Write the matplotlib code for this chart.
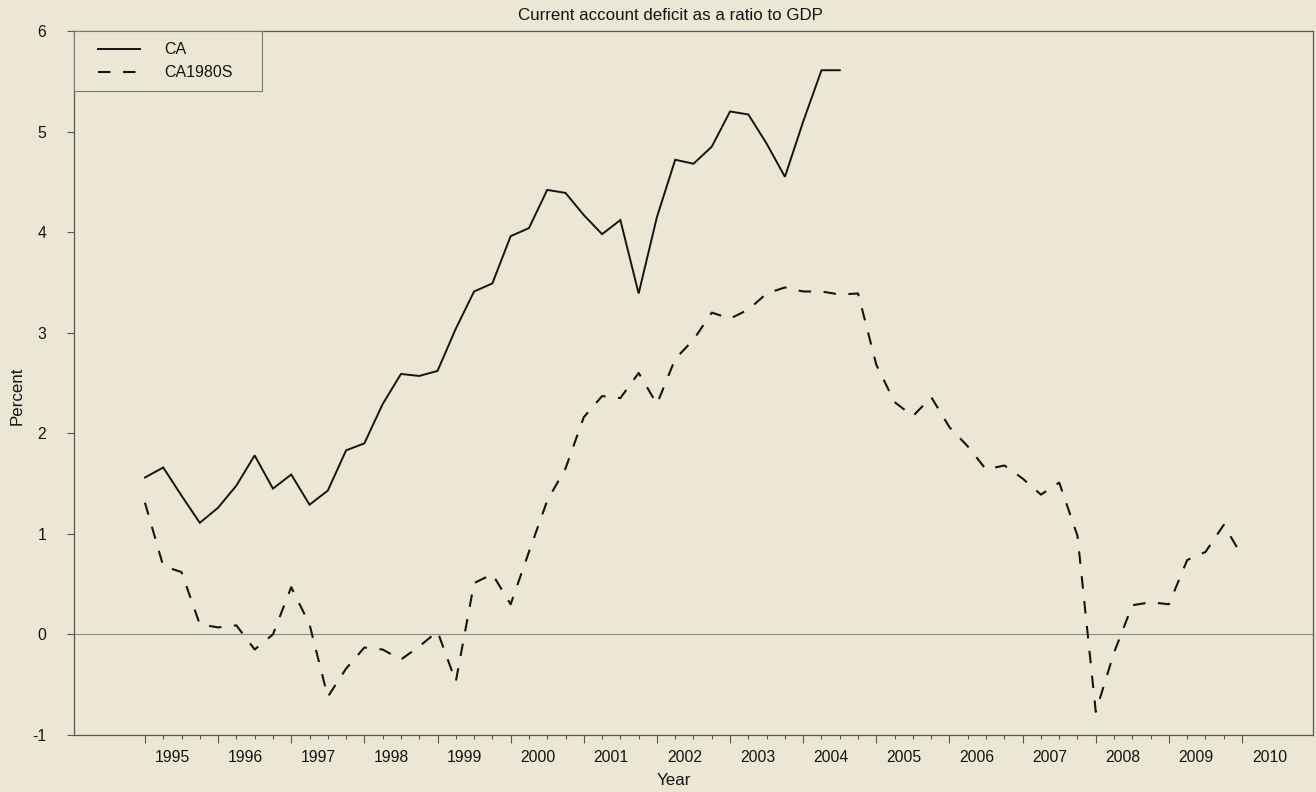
import numpy as np
import matplotlib
matplotlib.use("Agg")
import matplotlib.pyplot as plt
from matplotlib.legend_handler import HandlerLine2D

plt.rcParams['font.family'] = ['Liberation Sans', 'DejaVu Sans']

# ---- data (quarterly, starting 1995Q1) ----
start_year = 1995
ca = [1.56, 1.66, 1.38, 1.11,
      1.26, 1.48, 1.78, 1.45,
      1.59, 1.29, 1.43, 1.83,
      1.90, 2.29, 2.59, 2.57,
      2.62, 3.04, 3.41, 3.49,
      3.96, 4.04, 4.42, 4.39,
      4.17, 3.98, 4.12, 3.39,
      4.15, 4.72, 4.68, 4.85,
      5.20, 5.17, 4.88, 4.55,
      5.10, 5.61, 5.61]
ca1980s = [1.31, 0.68, 0.62, 0.10,
           0.07, 0.09, -0.15, 0.00,
           0.47, 0.10, -0.62, -0.34,
           -0.13, -0.15, -0.25, -0.12,
           0.03, -0.47, 0.51, 0.60,
           0.30, 0.82, 1.33, 1.65,
           2.16, 2.37, 2.35, 2.60,
           2.29, 2.74, 2.93, 3.20,
           3.14, 3.23, 3.39, 3.45,
           3.41, 3.41, 3.38, 3.39,
           2.68, 2.31, 2.17, 2.36,
           2.06, 1.87, 1.64, 1.68,
           1.55, 1.39, 1.51, 0.98,
           -0.77, -0.18, 0.29, 0.32,
           0.30, 0.74, 0.82, 1.09,
           0.78]
years = list(range(1995, 2011))
year_labels = [str(y) for y in years]
yticks = [-1, 0, 1, 2, 3, 4, 5, 6]
series_names = ['CA', 'CA1980S']
title = 'Current account deficit as a ratio to GDP'

t_ca = start_year + np.arange(len(ca)) / 4.0
t_80 = start_year + np.arange(len(ca1980s)) / 4.0

BG = '#ECE6D5'
INK = '#141414'
W, H = 1316, 792

fig = plt.figure(figsize=(W / 100, H / 100), dpi=100, facecolor=BG)
ax = fig.add_axes([74 / W, 1 - 735 / H, (1313 - 74) / W, (735 - 31) / H], facecolor=BG)

ax.axhline(0, color='#8c8c8c', lw=0.8, zorder=1)
l1, = ax.plot(t_ca, ca, color=INK, lw=1.4, solid_joinstyle='miter', zorder=3)
l2, = ax.plot(t_80, ca1980s, color=INK, lw=1.5, dashes=(6, 6), zorder=3)

ax.set_xlim(1994.03, 2010.97)
ax.set_ylim(-1, 6)

for s in ax.spines.values():
    s.set_color('#555555')
    s.set_linewidth(0.9)

ax.set_yticks(yticks)
ax.set_yticklabels([str(v) for v in yticks])
ax.tick_params(axis='y', direction='out', length=5, width=0.8, color='#555555',
               pad=15, labelsize=11.3, labelcolor=INK)

ax.set_xticks(years)
ax.set_xticklabels([])
minor = [y + q / 4 for y in years[:-1] for q in (1, 2, 3)]
ax.set_xticks(minor, minor=True)
ax.tick_params(axis='x', which='major', direction='out', length=5.8, width=0.8, color='#555555')
ax.tick_params(axis='x', which='minor', direction='out', length=2.9, width=0.8, color='#555555')

sec = ax.secondary_xaxis('bottom')
sec.set_xticks([y + 0.375 for y in years])
sec.set_xticklabels(year_labels)
sec.tick_params(length=0, pad=10.5, labelsize=11.3, labelcolor=INK)
sec.spines['bottom'].set_visible(False)


class OffsetLineHandler(HandlerLine2D):
    def __init__(self, frac, **kw):
        super().__init__(**kw)
        self.frac = frac

    def get_xdata(self, legend, xdescent, ydescent, width, height, fontsize):
        x0 = -xdescent + width * self.frac
        x1 = -xdescent + width
        return np.array([x0, x1]), np.array([(x0 + x1) / 2])


hl = 3.45
frac = 1 - 2.62 / hl
leg = ax.legend([l1, l2], series_names, loc='upper left',
                bbox_to_anchor=(0, 1, 188 / 1239, 0), mode='expand',
                borderaxespad=0, borderpad=0.7, handlelength=hl, handletextpad=1.5,
                labelspacing=0.5, fontsize=11.5, frameon=True, fancybox=False,
                edgecolor='#777777', facecolor=BG, framealpha=1,
                handler_map={l1: OffsetLineHandler(frac), l2: OffsetLineHandler(frac)})
leg.get_frame().set_linewidth(0.8)
for txt in leg.get_texts():
    txt.set_color(INK)

fig.text(670 / W, 1 - 20.5 / H, title, ha='center', va='baseline', fontsize=12.2, color=INK)
fig.text(674 / W, 1 - 785 / H, 'Year', ha='center', va='baseline', fontsize=12.2, color=INK)
fig.text(17 / W, 1 - 396 / H, 'Percent', ha='center', va='center', rotation=90,
         fontsize=12.2, color=INK)

fig.savefig('out.png', dpi=100, facecolor=BG)
